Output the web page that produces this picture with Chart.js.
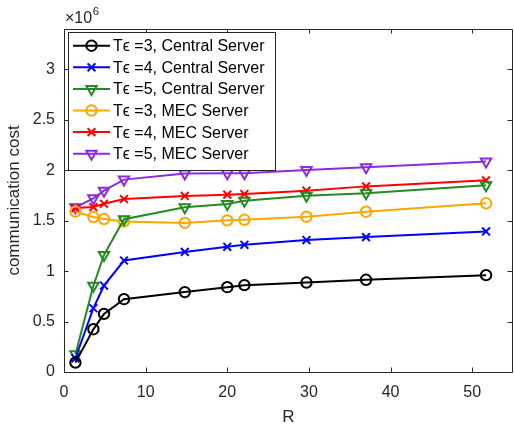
<!DOCTYPE html>
<html>
<head>
<meta charset="utf-8">
<script src="https://cdn.jsdelivr.net/npm/chart.js@4/dist/chart.umd.min.js"></script>
<style>
html,body{margin:0;padding:0;background:#fff;}
#wrap{width:514px;height:430px;}
</style>
</head>
<body>
<div id="wrap"><canvas id="c" width="514" height="430"></canvas></div>
<script>
// Data (communication cost in units of 1e6)
const R = [1.4, 3.6, 4.9, 7.35, 14.8, 20, 22.1, 29.7, 37, 51.7];
const central3 = [0.093, 0.424, 0.576, 0.722, 0.792, 0.841, 0.861, 0.887, 0.914, 0.960];
const central4 = [0.136, 0.632, 0.857, 1.105, 1.190, 1.241, 1.261, 1.308, 1.337, 1.393];
const central5 = [0.175, 0.855, 1.160, 1.515, 1.632, 1.665, 1.698, 1.748, 1.771, 1.852];
const mec3 = [1.590, 1.536, 1.516, 1.493, 1.478, 1.503, 1.509, 1.539, 1.589, 1.672];
const mec4 = [1.625, 1.635, 1.668, 1.715, 1.745, 1.758, 1.764, 1.797, 1.840, 1.900];
const mec5 = [1.632, 1.722, 1.797, 1.907, 1.967, 1.970, 1.970, 2.003, 2.030, 2.086];
const labels = ['T\u03F5 =3, Central Server','T\u03F5 =4, Central Server','T\u03F5 =5, Central Server',
                'T\u03F5 =3, MEC Server','T\u03F5 =4, MEC Server','T\u03F5 =5, MEC Server'];
const xTicks = [0, 10, 20, 30, 40, 50];
const yTicks = [0, 0.5, 1, 1.5, 2, 2.5, 3];
const X_MAX = 55, Y_MAX = 3.4;

const FONT = "'Liberation Sans', Arial, Helvetica, sans-serif";
const AX = '#262626';

function pts(ys){ return R.map((x,i)=>({x:x, y:ys[i]})); }
function ds(label, ys, color, style){
  const o = {label, data: pts(ys), borderColor: color, backgroundColor: 'rgba(0,0,0,0)',
    pointBorderColor: color, pointBackgroundColor: 'rgba(0,0,0,0)', borderWidth: 2,
    pointBorderWidth: 2, tension: 0, fill: false, clip: false};
  if (style==='circle'){ o.pointStyle='circle'; o.pointRadius=5.2; o.pointRotation=0; }
  if (style==='x'){ o.pointStyle='crossRot'; o.pointRadius=5.5; o.pointRotation=0; }
  if (style==='v'){ o.pointStyle='triangle'; o.pointRadius=6; o.pointRotation=180; }
  return o;
}

const boxTicks = {
  id:'boxTicks',
  afterDraw(chart){
    const {ctx, chartArea:a, scales:{x,y}} = chart;
    ctx.save();
    ctx.strokeStyle = AX; ctx.lineWidth = 1;
    ctx.beginPath();
    ctx.rect(Math.round(a.left)+0.5, Math.round(a.top)+0.5, Math.round(a.right-a.left)-1, Math.round(a.bottom-a.top));
    ctx.stroke();
    const L = 4.5;
    ctx.beginPath();
    xTicks.forEach(v=>{
      const px = Math.round(x.getPixelForValue(v))+0.5;
      ctx.moveTo(px, a.bottom); ctx.lineTo(px, a.bottom-L);
      ctx.moveTo(px, a.top); ctx.lineTo(px, a.top+L);
    });
    yTicks.forEach(v=>{
      const py = Math.round(y.getPixelForValue(v))+0.5;
      ctx.moveTo(a.left, py); ctx.lineTo(a.left+L, py);
      ctx.moveTo(a.right-1, py); ctx.lineTo(a.right-1-L, py);
    });
    ctx.stroke();
    // exponent label
    ctx.fillStyle = AX;
    ctx.textBaseline = 'alphabetic'; ctx.textAlign='left';
    ctx.font = '16px ' + FONT;
    ctx.fillText('\u00D710', a.left + 1, 23);
    const w = ctx.measureText('\u00D710').width;
    ctx.font = '11.5px ' + FONT;
    ctx.fillText('6', a.left + 1 + w + 0.5, 15);
    ctx.restore();
  }
};

const matLegend = {
  id:'matLegend',
  afterDraw(chart){
    const {ctx} = chart;
    const bx=68, by=32, bw=207, bh=138;
    ctx.save();
    ctx.fillStyle='#fff';
    ctx.fillRect(bx,by,bw,bh);
    ctx.strokeStyle = AX; ctx.lineWidth=1;
    ctx.strokeRect(bx+0.5,by+0.5,bw,bh);
    chart.data.datasets.forEach((d,i)=>{
      const cy = 45.7 + i*21.6;
      ctx.strokeStyle = d.borderColor; ctx.lineWidth = 2;
      ctx.beginPath(); ctx.moveTo(73, cy); ctx.lineTo(110, cy); ctx.stroke();
      ctx.fillStyle = 'rgba(0,0,0,0)';
      Chart.helpers.drawPoint(ctx, {pointStyle:d.pointStyle, radius:d.pointRadius, rotation:d.pointRotation, borderWidth:2}, 91.5, cy);
      ctx.fillStyle = '#000';
      ctx.font = '16px ' + FONT;
      ctx.textBaseline='middle'; ctx.textAlign='left';
      ctx.fillText(d.label, 113, cy+1);
    });
    ctx.restore();
  }
};

new Chart(document.getElementById('c'), {
  type:'line',
  data:{ datasets:[
    ds(labels[0], central3, '#000000', 'circle'),
    ds(labels[1], central4, '#0000ff', 'x'),
    ds(labels[2], central5, '#228b22', 'v'),
    ds(labels[3], mec3, '#ffa500', 'circle'),
    ds(labels[4], mec4, '#ff0000', 'x'),
    ds(labels[5], mec5, '#8a2be2', 'v')
  ]},
  options:{
    responsive:false, animation:false, devicePixelRatio:1,
    layout:{autoPadding:false, padding:{top:29, right:1, left:0, bottom:0}},
    plugins:{legend:{display:false}, tooltip:{enabled:false}},
    scales:{
      x:{type:'linear', min:0, max:X_MAX,
        afterBuildTicks(s){ s.ticks = xTicks.map(v=>({value:v})); },
        afterFit(s){ s.height = 58; s.paddingLeft = 0; s.paddingRight = 0; },
        grid:{display:false, drawTicks:false}, border:{display:false},
        ticks:{color:AX, font:{family:FONT, size:16}, padding:11, maxRotation:0, autoSkip:false,
               callback:(v)=>String(v)},
        title:{display:true, text:'R', color:AX, font:{family:FONT, size:17}, padding:{top:0,bottom:2}}
      },
      y:{type:'linear', min:0, max:Y_MAX,
        afterBuildTicks(s){ s.ticks = yTicks.map(v=>({value:v})); },
        afterFit(s){ s.width = 64; s.paddingTop = 0; s.paddingBottom = 0; },
        grid:{display:false, drawTicks:false}, border:{display:false},
        ticks:{color:AX, font:{family:FONT, size:16}, padding:9, autoSkip:false,
               callback:(v)=>String(v)},
        title:{display:true, text:'communication cost', color:AX, font:{family:FONT, size:17}, padding:{top:4,bottom:0}}
      }
    }
  },
  plugins:[boxTicks, matLegend]
});
</script>
</body>
</html>
